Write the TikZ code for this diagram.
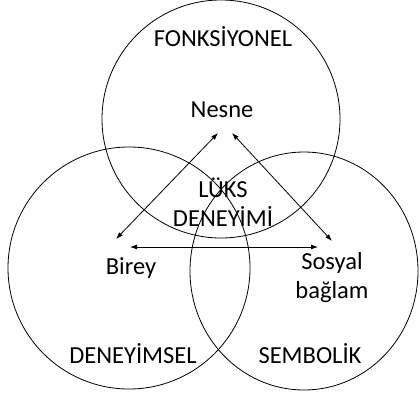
\documentclass[tikz,border=0pt]{standalone}
\usepackage{fontspec}
\setmainfont{Carlito}
\usetikzlibrary{positioning,arrows.meta,calc}

\begin{document}
\begin{tikzpicture}[x=1pt,y=-1pt,
        ring/.style={draw, line width=0.8pt},
        lbl/.style={font=\fontsize{24.5}{29}\selectfont, align=center, inner sep=0pt},
        link/.style={{Latex[length=7pt,width=5pt]}-{Latex[length=7pt,width=5pt]}, line width=0.8pt}
    ]
        \useasboundingbox (0,0) rectangle (420,399);

        % the three circles
        \draw[ring] (221,119) circle[radius=119pt];
        \draw[ring] (129,268) circle[radius=121pt];
        \draw[ring] (304,271) ellipse[x radius=114pt, y radius=119pt];

        \node[lbl] (fonk) at (223,37) {FONKSİYONEL};
        \node[lbl] (deneyimsel) at (133,354) {DENEYİMSEL};
        \node[lbl] (sembolik) at (310,354) {SEMBOLİK};

        \node[lbl] (nesne) at (222,110) {Nesne};
        \node[lbl] (luks) at (223,202) {LÜKS\\DENEYİMİ};
        \node[lbl] (birey) at (131,268) {Birey};
        \node[lbl] (sosyal) at (332,278) {Sosyal\\bağlam};

        \draw[link] ($(nesne)+(-4,23)$) -- ($(birey)+(-15,-29)$);
        \draw[link] ($(nesne)+(10,23)$) -- ($(sosyal)+(0,-37)$);
        \draw[link] ($(birey)+(-1,-21)$) -- ($(sosyal)+(-14,-31)$);
    \end{tikzpicture}
\end{document}
